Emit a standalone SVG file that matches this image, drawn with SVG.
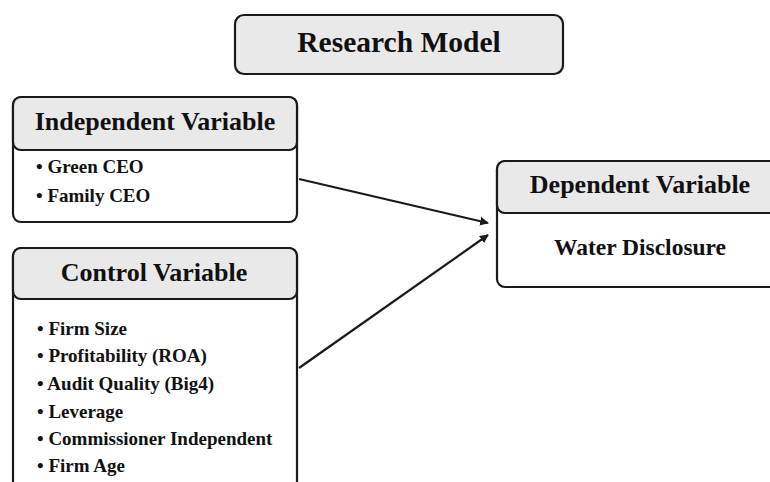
<svg xmlns="http://www.w3.org/2000/svg" width="770" height="482" viewBox="0 0 770 482">
<defs>
<style>
.box{fill:#ffffff;stroke:#1a1a1a;stroke-width:2.2}
.hdr{fill:#e9e9e9;stroke:#1a1a1a;stroke-width:2.2}
.title{font-family:"Liberation Serif","Times New Roman",serif;font-weight:bold;fill:#111;text-anchor:middle}
.item{font-family:"Liberation Serif","Times New Roman",serif;font-weight:bold;fill:#111;font-size:19px}
.conn{stroke:#1a1a1a;stroke-width:2.2;fill:none}
</style>
<marker id="arr" viewBox="0 0 10 10" refX="9" refY="5" markerWidth="4" markerHeight="4" orient="auto" markerUnits="strokeWidth">
<path d="M0,0 L10,5 L0,10 Z" fill="#1a1a1a"/>
</marker>
</defs>
<rect width="770" height="482" fill="#ffffff"/>
<g id="research-model">
<rect class="hdr" x="235" y="15" width="328" height="59" rx="9"/>
<text class="title" x="399" y="52" font-size="29.5">Research Model</text>
</g>
<g id="independent-variable">
<rect class="box" x="13" y="97" width="284" height="125" rx="8"/>
<rect class="hdr" x="13" y="97" width="284" height="53" rx="8"/>
<text class="title" x="155" y="130" font-size="26">Independent Variable</text>
<text class="item" x="36" y="173">• Green CEO</text>
<text class="item" x="36" y="202">• Family CEO</text>
</g>
<g id="control-variable">
<rect class="box" x="13" y="248" width="284" height="260" rx="8"/>
<rect class="hdr" x="13" y="248" width="284" height="51" rx="8"/>
<text class="title" x="154" y="281" font-size="26">Control Variable</text>
<text class="item" x="37" y="335">• Firm Size</text>
<text class="item" x="37" y="362">• Profitability (ROA)</text>
<text class="item" x="37" y="390">• Audit Quality (Big4)</text>
<text class="item" x="37" y="418">• Leverage</text>
<text class="item" x="37" y="445">• Commissioner Independent</text>
<text class="item" x="37" y="472">• Firm Age</text>
</g>
<g id="dependent-variable">
<rect class="box" x="497" y="161" width="290" height="126" rx="8"/>
<rect class="hdr" x="497" y="161" width="290" height="52" rx="8"/>
<text class="title" x="640" y="193" font-size="26">Dependent Variable</text>
<text class="title" x="640" y="255" font-size="23.5">Water Disclosure</text>
</g>
<g id="connectors">
<line class="conn" x1="299" y1="179" x2="488" y2="223" marker-end="url(#arr)"/>
<line class="conn" x1="299" y1="368" x2="488" y2="235" marker-end="url(#arr)"/>
</g>
</svg>
